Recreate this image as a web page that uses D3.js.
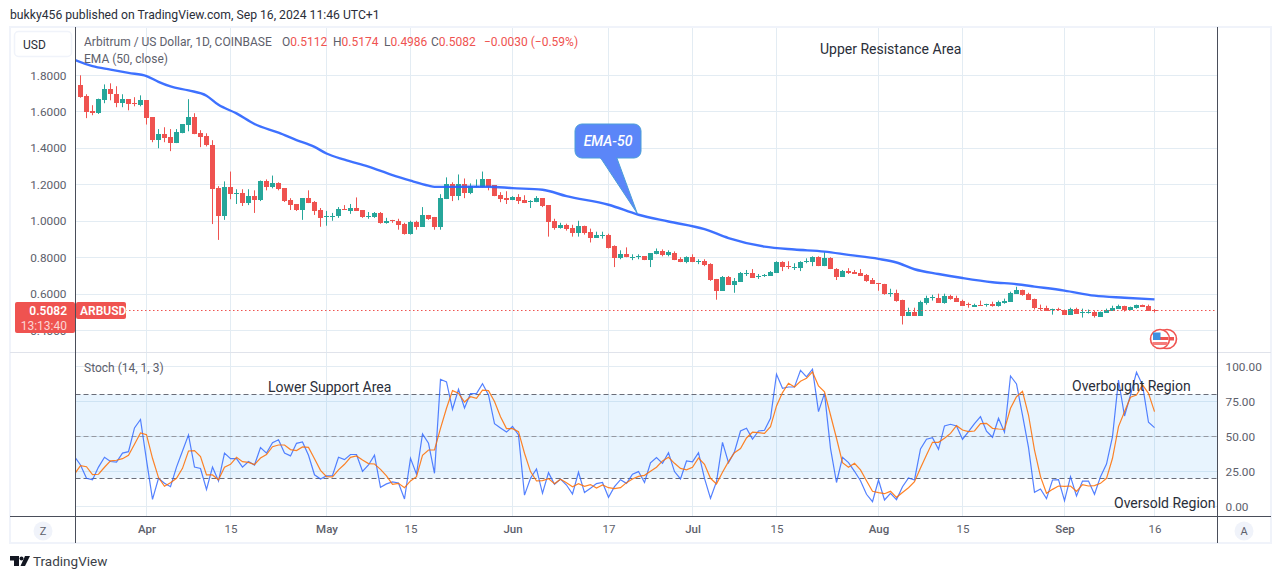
<!DOCTYPE html>
<html>
<head>
<meta charset="utf-8">
<script src="https://cdn.jsdelivr.net/npm/d3@7"></script>
<style>
  html, body { margin: 0; padding: 0; background: #fff; }
  svg { display: block; }
  text { font-family: Roboto, "Noto Sans", sans-serif; }
</style>
</head>
<body>
<svg id="chart" width="1281" height="579"></svg>
<script>
const firstDay = '2024-03-21'

// daily candles, Mar 21 to Sep 16
const open = [
  1.745,1.685,1.603,1.594,1.663,1.723,1.700,1.647,1.669,1.647,
  1.636,1.663,1.570,1.444,1.477,1.460,1.428,1.482,1.526,1.570,
  1.482,1.466,1.417,1.181,1.029,1.186,1.148,1.153,1.099,1.137,
  1.115,1.218,1.186,1.207,1.180,1.115,1.094,1.061,1.126,1.105,
  1.061,1.025,1.025,1.029,1.067,1.056,1.072,1.061,1.025,1.023,
  1.045,0.991,1.007,1.002,0.986,0.932,0.996,0.970,1.034,1.023,
  0.969,1.121,1.202,1.137,1.202,1.153,1.187,1.185,1.229,1.196,
  1.142,1.126,1.115,1.131,1.115,1.106,1.104,1.126,1.088,1.002,
  0.964,0.980,0.964,0.937,0.975,0.942,0.910,0.920,0.926,0.861,
  0.796,0.818,0.802,0.803,0.807,0.786,0.818,0.834,0.813,0.823,
  0.791,0.775,0.802,0.777,0.780,0.764,0.683,0.618,0.694,0.650,
  0.667,0.713,0.715,0.692,0.699,0.699,0.715,0.775,0.753,0.746,
  0.742,0.775,0.775,0.802,0.753,0.796,0.737,0.694,0.726,0.721,
  0.715,0.704,0.677,0.661,0.656,0.600,0.607,0.569,0.482,0.504,
  0.482,0.553,0.578,0.580,0.553,0.591,0.580,0.564,0.544,0.531,
  0.542,0.544,0.547,0.536,0.553,0.558,0.602,0.624,0.602,0.575,
  0.524,0.525,0.516,0.520,0.515,0.487,0.520,0.500,0.500,0.504,
  0.476,0.498,0.509,0.520,0.536,0.515,0.525,0.542,0.536,0.5112
]
const close = [
  1.680,1.597,1.590,1.669,1.723,1.696,1.652,1.669,1.641,1.641,
  1.663,1.565,1.444,1.477,1.455,1.428,1.488,1.532,1.570,1.477,
  1.460,1.417,1.176,1.028,1.186,1.148,1.153,1.099,1.137,1.115,
  1.218,1.186,1.207,1.175,1.110,1.088,1.061,1.126,1.099,1.056,
  1.018,1.029,1.029,1.067,1.061,1.072,1.056,1.023,1.029,1.045,
  0.991,1.002,1.002,0.980,0.932,0.996,0.970,1.034,1.013,0.969,
  1.126,1.202,1.137,1.202,1.153,1.191,1.193,1.229,1.185,1.137,
  1.120,1.115,1.131,1.110,1.099,1.110,1.126,1.083,0.996,0.964,
  0.980,0.959,0.937,0.975,0.937,0.910,0.926,0.926,0.856,0.796,
  0.818,0.802,0.805,0.806,0.786,0.823,0.834,0.813,0.829,0.786,
  0.775,0.802,0.775,0.780,0.759,0.677,0.618,0.694,0.650,0.672,
  0.715,0.716,0.688,0.699,0.704,0.721,0.775,0.748,0.748,0.751,
  0.775,0.780,0.802,0.753,0.796,0.737,0.694,0.726,0.715,0.710,
  0.699,0.672,0.656,0.659,0.602,0.604,0.564,0.482,0.504,0.482,
  0.558,0.580,0.582,0.553,0.591,0.575,0.558,0.536,0.540,0.542,
  0.538,0.547,0.536,0.558,0.564,0.607,0.624,0.596,0.569,0.525,
  0.520,0.509,0.520,0.515,0.487,0.520,0.493,0.504,0.503,0.482,
  0.504,0.515,0.525,0.536,0.515,0.531,0.542,0.533,0.509,0.5082
]
const high = [
  1.800,1.696,1.636,1.672,1.750,1.756,1.740,1.696,1.669,1.680,
  1.690,1.663,1.570,1.505,1.515,1.505,1.505,1.532,1.669,1.592,
  1.499,1.482,1.444,1.192,1.218,1.272,1.175,1.175,1.175,1.169,
  1.223,1.229,1.250,1.213,1.180,1.126,1.094,1.126,1.169,1.110,
  1.072,1.056,1.045,1.077,1.088,1.094,1.130,1.061,1.050,1.050,
  1.050,1.018,1.007,1.013,0.991,1.002,1.002,1.077,1.034,1.023,
  1.148,1.240,1.213,1.256,1.234,1.207,1.229,1.272,1.229,1.196,
  1.159,1.164,1.137,1.148,1.142,1.115,1.137,1.126,1.088,1.013,
  0.991,0.986,0.980,1.002,0.975,0.959,0.942,0.942,0.931,0.867,
  0.840,0.856,0.818,0.818,0.807,0.823,0.850,0.845,0.840,0.834,
  0.802,0.807,0.818,0.791,0.791,0.769,0.683,0.699,0.699,0.688,
  0.721,0.732,0.737,0.710,0.710,0.726,0.780,0.780,0.780,0.769,
  0.780,0.796,0.807,0.807,0.829,0.802,0.742,0.732,0.742,0.732,
  0.737,0.710,0.688,0.661,0.656,0.629,0.624,0.569,0.525,0.525,
  0.564,0.591,0.596,0.602,0.602,0.596,0.591,0.569,0.553,0.547,
  0.564,0.547,0.558,0.564,0.575,0.613,0.640,0.624,0.607,0.575,
  0.542,0.536,0.520,0.525,0.515,0.525,0.525,0.520,0.515,0.509,
  0.504,0.520,0.536,0.542,0.536,0.531,0.542,0.542,0.542,0.5174
]
const low = [
  1.677,1.565,1.581,1.588,1.647,1.663,1.625,1.625,1.608,1.630,
  1.630,1.530,1.433,1.400,1.433,1.384,1.428,1.482,1.493,1.477,
  1.406,1.410,0.984,0.897,1.007,1.120,1.094,1.083,1.088,1.045,
  1.110,1.169,1.180,1.169,1.105,1.061,1.056,1.007,1.099,1.034,
  0.969,0.975,1.002,1.018,1.061,1.040,1.056,1.018,1.013,1.018,
  0.986,0.986,0.991,0.953,0.926,0.926,0.953,0.970,1.007,0.953,
  0.953,1.121,1.110,1.115,1.126,1.148,1.185,1.185,1.169,1.137,
  1.104,1.094,1.115,1.094,1.099,1.072,1.104,1.077,0.915,0.953,
  0.959,0.948,0.915,0.915,0.926,0.883,0.910,0.904,0.850,0.748,
  0.791,0.802,0.786,0.791,0.786,0.748,0.818,0.807,0.807,0.786,
  0.775,0.769,0.775,0.764,0.753,0.672,0.569,0.618,0.650,0.607,
  0.667,0.699,0.688,0.683,0.694,0.699,0.715,0.726,0.737,0.732,
  0.726,0.769,0.753,0.753,0.753,0.737,0.677,0.694,0.710,0.710,
  0.699,0.667,0.656,0.618,0.596,0.585,0.558,0.433,0.482,0.482,
  0.482,0.542,0.564,0.553,0.547,0.569,0.558,0.536,0.525,0.531,
  0.536,0.531,0.531,0.531,0.547,0.558,0.602,0.591,0.569,0.515,
  0.509,0.509,0.487,0.509,0.487,0.487,0.493,0.471,0.493,0.471,
  0.476,0.498,0.509,0.520,0.504,0.515,0.520,0.533,0.509,0.4986
]

// EMA, days counted from firstDay
const emaDays = [-1,2,5,8,11,13,15,18,21,23,26,29,33,36,39,41,44,48,52,55,58,59,62,68,72,77,81,88,93,98,104,108,114,119,124,128,133,136,139,143,147,152,156,159,164,169,174,179]
const emaValues = [1.885,1.850,1.831,1.813,1.796,1.764,1.739,1.717,1.688,1.638,1.591,1.533,1.485,1.445,1.407,1.371,1.337,1.299,1.252,1.222,1.195,1.188,1.188,1.189,1.181,1.172,1.137,1.090,1.035,0.998,0.956,0.907,0.860,0.844,0.833,0.815,0.793,0.773,0.736,0.710,0.688,0.665,0.654,0.641,0.619,0.591,0.580,0.571]

// stochastic, first entry is the day before firstDay (cut by the pane edge)
const stochK = [
  35.5,
  29.5,20,19,28,35,32,31.5,38,39,56,
  62,33,5,20,16.5,14,28,39.5,51,28,
  27,12,28,18,38,34,34,28,32,29.5,
  42,38,45.5,47.5,38,36,45,46,36.5,22.5,
  19.5,21.7,22,35,33.3,37,37,25,29.5,36.5,
  13.6,16,17.4,16.7,5.2,34.3,23,51.7,45,23.6,
  90.7,88.8,69.3,83.6,70.2,80.5,80.5,87.6,79.5,59,
  56,53,57,51,8,20,26.7,9.3,24,15.7,
  19.5,15.2,8.8,24.3,9.8,12.9,16.2,17,6.4,14,
  19,16.4,22.9,24.8,17,31,34.8,30.7,38.3,24.8,
  19.5,32.4,31.7,38.3,20,5.7,17.6,45.7,31.2,39,
  53.8,55.7,48,53.8,54.3,62.9,94.3,84.3,85.2,85.2,
  97.1,92.4,97.9,67.6,80.7,41.4,17,35,31.2,25,
  18.3,8.6,3.3,18.8,4.5,9.3,4.8,14,20.2,18.8,
  41,47.9,49,40.7,57.4,58.6,57.4,47.9,53.3,59,
  64,53.6,49.3,62.9,52.9,93.1,87.4,65.2,42.1,10,
  12.4,5.5,18.8,19,4,21.2,7.4,18,18,8.6,
  21.2,30.2,49.8,90.2,64.5,79.5,95.7,86.7,60,56.2
]
const stochD = [
  23,
  29,28.3,22.6,22.9,27.9,32.4,32.9,34,36.4,44.3,
  52.4,51.2,34.3,20.5,14.3,16.9,20,27.1,39.5,39.8,
  35.5,22.4,22.4,19,27.9,30,35,31.9,31.4,29.8,
  34.5,36.9,42.6,43.8,43.8,40.5,39.8,42.4,42.1,34,
  25.7,21.2,21,26,30,35,36,33.1,30.5,30.2,
  26.4,21.7,15.7,16.4,13.3,18.1,21.2,36.4,40.2,40.2,
  55.7,70,82.6,80.7,74.5,78.3,77.1,82.9,82.6,74.8,
  64,55.5,55.5,53.3,37.9,24.8,18.1,18.3,19.8,16.2,
  19.3,16.9,14,16.2,14.3,15.5,13.1,15.2,13.3,12.6,
  13.3,16.9,19.5,21.4,22.1,25,27.9,32.4,35,30.7,
  27.1,26,27.9,34.5,30,20,16,24.3,31.9,38.3,
  41.2,48.8,52.9,52.6,52.1,56.9,71.7,81.2,87.9,85.2,
  89.3,91.4,96,86,81.7,65.2,48.6,31.2,27.9,30.7,
  26,18.3,10.7,9.8,9,10.7,6.4,9.8,13.3,17.6,
  27.4,36.7,45.7,45.7,48.6,52.1,57.6,54.5,53.3,53.8,
  59,59.3,55.7,55.2,55,70,78.3,82.1,65.2,40.2,
  21.2,9.3,12.1,14.5,14.3,14.5,10.7,15.5,14.5,14.8,
  16.4,20,34.3,56.9,67.6,77.9,79.5,86.7,80.7,67.6
]

const priceTicks = [0.4, 0.6, 0.8, 1.0, 1.2, 1.4, 1.6, 1.8]
const stochTicks = [0, 25, 50, 75, 100]
const stochLevels = [80, 50, 20]
const dateTicks = ['2024-04-01','2024-04-15','2024-05-01','2024-05-15','2024-06-01','2024-06-17','2024-07-01','2024-07-15','2024-08-01','2024-08-15','2024-09-01','2024-09-16']
const dateLabels = ['Apr','15','May','15','Jun','17','Jul','15','Aug','15','Sep','16']
const lastPrice = 0.5082

const UP = '#26a69a'
const DOWN = '#ef5350'
const GRID = '#e3ecf3'
const AXIS = '#4a4e5a'
const TEXT = '#5d606b'

const left = 75.5
const right = 1217.5
const mainTop = 27
const mainBottom = 352.5
const stochBottom = 516.5
const frameBottom = 543

const svg = d3.select('#chart')
const day = i => d3.utcDay.offset(new Date(firstDay), i)

const x = d3.scaleUtc().domain([day(0), day(179)]).range([80.5, 1154.5])
const y = d3.scaleLinear().domain([0.4, 1.8]).range([330.5, 75.3])
const yS = d3.scaleLinear().domain([0, 100]).range([506.3, 366.3])
const sn = v => Math.round(v - 0.5) + 0.5

const defs = svg.append('defs')
defs.append('clipPath').attr('id', 'clipMain').append('rect')
  .attr('x', left).attr('y', mainTop).attr('width', right - left).attr('height', mainBottom - mainTop)
defs.append('clipPath').attr('id', 'clipStoch').append('rect')
  .attr('x', left).attr('y', mainBottom).attr('width', right - left).attr('height', stochBottom - mainBottom)

// published line
svg.append('text').attr('x', 10).attr('y', 19).attr('font-size', 12.2).attr('fill', '#2a2e39')
  .text('bukky456 published on TradingView.com, Sep 16, 2024 11:46 UTC+1')

// grid
const grid = svg.append('g').attr('stroke', GRID).attr('stroke-width', 1)
grid.selectAll('line.v').data(dateTicks).enter().append('line').classed('v', true)
  .attr('x1', d => sn(x(new Date(d)))).attr('x2', d => sn(x(new Date(d))))
  .attr('y1', mainTop).attr('y2', stochBottom)
grid.selectAll('line.p').data(priceTicks).enter().append('line').classed('p', true)
  .attr('x1', left).attr('x2', right)
  .attr('y1', d => sn(y(d))).attr('y2', d => sn(y(d)))
grid.selectAll('line.s').data(stochTicks).enter().append('line').classed('s', true)
  .attr('x1', left).attr('x2', right)
  .attr('y1', d => sn(yS(d))).attr('y2', d => sn(yS(d)))

// stochastic band and levels
svg.append('rect').attr('x', left).attr('width', right - left)
  .attr('y', yS(80)).attr('height', yS(20) - yS(80))
  .attr('fill', '#2196f3').attr('fill-opacity', 0.1)
svg.append('g').selectAll('line').data(stochLevels).enter().append('line')
  .attr('x1', left).attr('x2', right)
  .attr('y1', d => sn(yS(d))).attr('y2', d => sn(yS(d)))
  .attr('stroke', d => d === 50 ? '#9598a1' : '#6a6d78')
  .attr('stroke-dasharray', '5 3')

// candles
const candles = svg.append('g').attr('clip-path', 'url(#clipMain)')
  .selectAll('g').data(open).enter().append('g')
candles.append('rect')
  .attr('x', (d, i) => x(day(i)) - 0.5).attr('width', 1)
  .attr('y', (d, i) => y(high[i]))
  .attr('height', (d, i) => Math.max(1, y(low[i]) - y(high[i])))
  .attr('fill', (d, i) => close[i] >= open[i] ? UP : DOWN)
candles.append('rect')
  .attr('x', (d, i) => x(day(i)) - 2.5).attr('width', 5)
  .attr('y', (d, i) => Math.round(y(Math.max(open[i], close[i]))))
  .attr('height', (d, i) => Math.max(1, Math.round(Math.abs(y(open[i]) - y(close[i])))))
  .attr('fill', (d, i) => close[i] >= open[i] ? UP : DOWN)

// last price line
svg.append('line').attr('x1', 125).attr('x2', right)
  .attr('y1', sn(y(lastPrice))).attr('y2', sn(y(lastPrice)))
  .attr('stroke', DOWN).attr('stroke-dasharray', '1.5 2.5')

// EMA 50
const emaLine = d3.line().x(d => x(day(d[0]))).y(d => y(d[1])).curve(d3.curveMonotoneX)
svg.append('path').attr('clip-path', 'url(#clipMain)')
  .datum(d3.zip(emaDays, emaValues))
  .attr('d', emaLine).attr('fill', 'none').attr('stroke', '#2962ff').attr('stroke-opacity', 0.9).attr('stroke-width', 2.4)

// stochastic lines
const stochLine = d3.line().x((d, i) => x(day(i - 1))).y(d => yS(d))
svg.append('path').attr('clip-path', 'url(#clipStoch)').datum(stochK)
  .attr('d', stochLine).attr('fill', 'none').attr('stroke', '#2962ff').attr('stroke-opacity', 0.8).attr('stroke-width', 1.2)
svg.append('path').attr('clip-path', 'url(#clipStoch)').datum(stochD)
  .attr('d', stochLine).attr('fill', 'none').attr('stroke', '#ff6d00').attr('stroke-opacity', 0.85).attr('stroke-width', 1.2)

// frame
const frame = svg.append('g')
frame.append('rect').attr('x', 10).attr('y', 27).attr('width', 1261).attr('height', frameBottom - 27)
  .attr('fill', 'none').attr('stroke', '#f0f3fa').attr('stroke-width', 2)
frame.append('line').attr('x1', 10).attr('x2', 1271).attr('y1', mainBottom).attr('y2', mainBottom)
  .attr('stroke', '#e0e3eb').attr('stroke-width', 1)
frame.append('line').attr('x1', 10).attr('x2', 1271).attr('y1', stochBottom).attr('y2', stochBottom)
  .attr('stroke', AXIS).attr('stroke-width', 1)
frame.append('line').attr('x1', left).attr('x2', left).attr('y1', mainTop).attr('y2', frameBottom)
  .attr('stroke', AXIS).attr('stroke-width', 1)
frame.append('line').attr('x1', right).attr('x2', right).attr('y1', mainTop).attr('y2', frameBottom)
  .attr('stroke', AXIS).attr('stroke-width', 1)

// axes
const priceAxis = d3.axisLeft(y).tickValues(priceTicks).tickSize(0).tickPadding(9).tickFormat(d3.format('.4f'))
const gPrice = svg.append('g').attr('transform', `translate(${left},0)`).call(priceAxis)
const stochAxis = d3.axisRight(yS).tickValues(stochTicks).tickSize(0).tickPadding(8).tickFormat(d3.format('.2f'))
const gStoch = svg.append('g').attr('transform', `translate(${right},0)`).call(stochAxis)
const timeAxis = d3.axisBottom(x).tickValues(dateTicks.map(d => new Date(d))).tickSize(0).tickPadding(8)
  .tickFormat((d, i) => dateLabels[i])
const gTime = svg.append('g').attr('transform', `translate(0,${stochBottom})`).call(timeAxis)
for (const g of [gPrice, gStoch, gTime]) {
  g.select('.domain').remove()
  g.selectAll('text').attr('font-size', 11.8).attr('fill', TEXT)
    .style('font-family', 'Roboto, "Noto Sans", sans-serif')
}
gTime.selectAll('text').attr('font-size', 11.5)
  .attr('font-weight', (d, i) => isNaN(+dateLabels[i]) ? 500 : 400)

// USD box
svg.append('rect').attr('x', 14.5).attr('y', 31.5).attr('width', 57).attr('height', 25).attr('rx', 4)
  .attr('fill', '#fff').attr('stroke', '#f0f3fa').attr('stroke-width', 1.5)
svg.append('text').attr('x', 23).attr('y', 49).attr('font-size', 12).attr('fill', '#2a2e39').text('USD')

// legends
const legend = svg.append('text').attr('x', 84).attr('y', 46).attr('font-size', 12).attr('fill', TEXT)
legend.append('tspan').text('Arbitrum / US Dollar, 1D, COINBASE')
const ohlc = [['O', '0.5112', 282], ['H', '0.5174', 333], ['L', '0.4986', 384], ['C', '0.5082', 431]]
ohlc.forEach(d => {
  legend.append('tspan').attr('x', d[2]).text(d[0])
  legend.append('tspan').attr('fill', DOWN).text(d[1])
})
legend.append('tspan').attr('x', 484).attr('fill', DOWN).text('\u22120.0030 (\u22120.59%)')
svg.append('text').attr('x', 84).attr('y', 63).attr('font-size', 12).attr('fill', TEXT).text('EMA (50, close)')
svg.append('text').attr('x', 84).attr('y', 372).attr('font-size', 12).attr('fill', TEXT).text('Stoch (14, 1, 3)')

// annotations
const notes = [
  ['Upper Resistance Area', 820, 54],
  ['Lower Support Area', 268, 392],
  ['Overbought Region', 1072, 391],
  ['Oversold Region', 1114, 508]
]
svg.append('g').selectAll('text').data(notes).enter().append('text')
  .attr('x', d => d[1]).attr('y', d => d[2]).attr('font-size', 14).attr('fill', '#2a2e39').text(d => d[0])

// EMA-50 callout
const callout = svg.append('g')
callout.append('path').attr('d', 'M600,157 L637.3,213.5 L616.5,157 Z')
  .attr('fill', '#5b86f8').attr('stroke', '#4a9ed8').attr('stroke-width', 1)
callout.append('rect').attr('x', 575).attr('y', 124).attr('width', 66).attr('height', 34).attr('rx', 7)
  .attr('fill', '#5b86f8').attr('stroke', '#4a9ed8').attr('stroke-width', 1)
callout.append('rect').attr('x', 600.5).attr('y', 155).attr('width', 15.5).attr('height', 4).attr('fill', '#5b86f8')
callout.append('text').attr('x', 608).attr('y', 145.5).attr('text-anchor', 'middle').attr('font-size', 14)
  .attr('font-style', 'italic').attr('font-weight', 500).attr('fill', '#fff').text('EMA-50')

// price tag
const tag = svg.append('g')
tag.append('rect').attr('x', 15).attr('y', 302).attr('width', 60).attr('height', 31).attr('rx', 2).attr('fill', DOWN)
tag.append('rect').attr('x', 76).attr('y', 302).attr('width', 50).attr('height', 17).attr('rx', 2).attr('fill', DOWN)
tag.append('text').attr('x', 67).attr('y', 314.5).attr('text-anchor', 'end').attr('font-size', 12)
  .attr('font-weight', 600).attr('fill', '#fff').text('0.5082')
tag.append('text').attr('x', 67).attr('y', 329.5).attr('text-anchor', 'end').attr('font-size', 12)
  .attr('fill', '#fbd5d4').text('13:13:40')
tag.append('text').attr('x', 80).attr('y', 314.5).attr('font-size', 12)
  .attr('font-weight', 600).attr('fill', '#fff').text('ARBUSD')

// dividend / currency marker
const flag = svg.append('g')
flag.append('circle').attr('cx', 1167).attr('cy', 339).attr('r', 9.5).attr('fill', '#fff').attr('stroke', DOWN).attr('stroke-width', 1.6)
flag.append('rect').attr('x', 1168).attr('y', 337).attr('width', 6).attr('height', 3.5).attr('fill', DOWN)
flag.append('circle').attr('cx', 1160).attr('cy', 339).attr('r', 9.5).attr('fill', '#fff').attr('stroke', DOWN).attr('stroke-width', 1.6)
flag.append('rect').attr('x', 1152.5).attr('y', 342).attr('width', 15).attr('height', 3).attr('fill', '#f57c7a')
flag.append('rect').attr('x', 1160).attr('y', 337).attr('width', 8.5).attr('height', 3).attr('fill', DOWN)
flag.append('rect').attr('x', 1153).attr('y', 332.5).attr('width', 7.5).attr('height', 7.5).attr('fill', '#3d8fe0')

// corner buttons
const buttons = [['Z', 43], ['A', 1244]]
const btn = svg.append('g').selectAll('g').data(buttons).enter().append('g')
btn.append('circle').attr('cx', d => d[1]).attr('cy', 531).attr('r', 9.5).attr('fill', '#f0f3fa')
btn.append('text').attr('x', d => d[1]).attr('y', 535).attr('text-anchor', 'middle')
  .attr('font-size', 11).attr('fill', TEXT).text(d => d[0])

// TradingView mark
const logo = svg.append('g').attr('fill', '#131722')
logo.append('path').attr('d', 'M10,556 H19 V566 H14 V560.5 H10 Z')
logo.append('circle').attr('cx', 21.5).attr('cy', 558.5).attr('r', 2)
logo.append('path').attr('d', 'M25,556 H30 L25,566 H20.5 Z')
svg.append('text').attr('x', 33).attr('y', 566).attr('font-size', 13.5).attr('fill', '#3c3f48').text('TradingView')
</script>
</body>
</html>
